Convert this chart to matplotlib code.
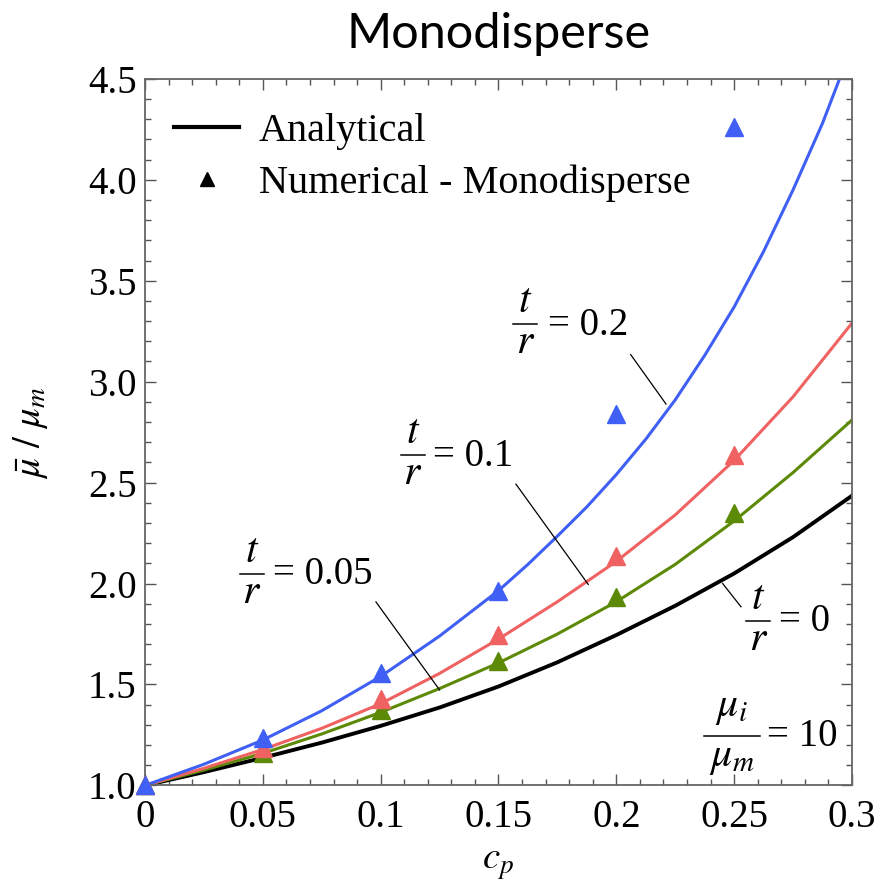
import matplotlib.pyplot as plt
from matplotlib.lines import Line2D
from matplotlib.ticker import MultipleLocator

# analytical curves, every 0.025
cp = [0, 0.025, 0.05, 0.075, 0.1, 0.125, 0.15, 0.175, 0.2, 0.225, 0.25, 0.275, 0.3]
mu_t0 = [1.0, 1.066, 1.137, 1.212, 1.295, 1.386, 1.49, 1.61, 1.745, 1.89, 2.05, 2.23, 2.435]
mu_t005 = [1.0, 1.076, 1.159, 1.255, 1.362, 1.48, 1.607, 1.75, 1.91, 2.095, 2.31, 2.55, 2.81]
mu_t01 = [1.0, 1.085, 1.178, 1.283, 1.405, 1.555, 1.725, 1.91, 2.11, 2.34, 2.61, 2.925, 3.29]

# the t/r = 0.2 curve bends hard, so it was read every 0.0125 past 0.15
cp_b = [0, 0.025, 0.05, 0.075, 0.1, 0.125, 0.15, 0.1625, 0.175, 0.1875, 0.2,
        0.2125, 0.225, 0.2375, 0.25, 0.2625, 0.275, 0.2875, 0.3]
mu_t02 = [1.0, 1.105, 1.225, 1.37, 1.54, 1.74, 1.965, 2.095, 2.235, 2.38, 2.54,
          2.715, 2.91, 3.13, 3.37, 3.645, 3.95, 4.28, 4.66]

# numerical (monodisperse) points
cp_num = [0, 0.05, 0.1, 0.15, 0.2, 0.25]
num_t005 = [1.0, 1.16, 1.375, 1.615, 1.935, 2.35]
num_t01 = [1.0, 1.185, 1.43, 1.745, 2.135, 2.635]
num_t02 = [1.0, 1.235, 1.555, 1.965, 2.84, 4.26]

x_ticks = [0, 0.05, 0.1, 0.15, 0.2, 0.25, 0.3]
x_tick_labels = ["0", "0.05", "0.1", "0.15", "0.2", "0.25", "0.3"]
y_ticks = [1.0, 1.5, 2.0, 2.5, 3.0, 3.5, 4.0, 4.5]
y_tick_labels = ["1.0", "1.5", "2.0", "2.5", "3.0", "3.5", "4.0", "4.5"]

blue = "#3f5ff5"
red = "#f06262"
green = "#5c8a06"

plt.rcParams["font.family"] = ["Liberation Serif", "DejaVu Serif"]
plt.rcParams["mathtext.fontset"] = "stix"

fig = plt.figure(figsize=(8.87, 8.86), dpi=100)
ax = fig.add_axes([0.1635, 0.1135, 0.797, 0.7975])

ax.plot(cp, mu_t0, color="black", lw=2.8, zorder=2)
ax.plot(cp, mu_t005, color=green, lw=2.2, zorder=2)
ax.plot(cp, mu_t01, color=red, lw=2.2, zorder=2)
ax.plot(cp_b, mu_t02, color=blue, lw=2.2, zorder=2)

ax.plot(cp_num, num_t005, "^", color=green, ms=13, ls="none", clip_on=False, zorder=3)
ax.plot(cp_num, num_t01, "^", color=red, ms=13, ls="none", clip_on=False, zorder=4)
ax.plot(cp_num, num_t02, "^", color=blue, ms=13, ls="none", clip_on=False, zorder=5)

ax.set_xlim(0, 0.3)
ax.set_ylim(1.0, 4.5)
ax.set_xticks(x_ticks)
ax.set_xticklabels(x_tick_labels)
ax.set_yticks(y_ticks)
ax.set_yticklabels(y_tick_labels)
ax.xaxis.set_minor_locator(MultipleLocator(0.01))
ax.yaxis.set_minor_locator(MultipleLocator(0.1))
ax.tick_params(which="both", direction="in", top=True, right=True, color="#555555", width=1)
ax.tick_params(which="major", length=8, labelsize=28)
ax.tick_params(which="minor", length=4)
ax.tick_params(axis="x", pad=10)
ax.tick_params(axis="y", pad=6)
for s in ax.spines.values():
    s.set_color("#666666")
    s.set_linewidth(1.3)

ax.set_xlabel(r"$c_p$", fontsize=28)
ax.xaxis.set_label_coords(0.5, -0.085)
ax.set_ylabel(r"$\bar{\mu}\ /\ \mu_m$", fontsize=28)
ax.yaxis.set_label_coords(-0.135, 0.5)

fig.text(0.562, 1 - 48 / 886, "Monodisperse", family="Lato", fontsize=35,
         ha="center", va="baseline")

handles = [Line2D([], [], color="black", lw=3),
           Line2D([], [], color="black", marker="^", ms=9.5, ls="none")]
ax.legend(handles, ["Analytical", "Numerical - Monodisperse"], loc="upper left",
          bbox_to_anchor=(0.013, 0.98), frameon=False, fontsize=29,
          handlelength=1.6, handletextpad=0.5, labelspacing=0.35, borderpad=0)


def fraction(x, y, num, den, half_w, up, down, size=30):
    # Mathematica-style stacked fraction: numerator, bar, denominator
    ax.text(x, y + up, num, fontsize=size, ha="center", va="center")
    ax.text(x, y - down, den, fontsize=size, ha="center", va="center")
    ax.plot([x - half_w, x + half_w], [y, y], color="black", lw=1.1)


# curve labels: fraction position, "= value" position, leader line
labels = [
    ("= 0.2", (0.1613, 3.285), (0.1710, 3.28), [0.2061, 0.2211], [3.134, 2.889]),
    ("= 0.1", (0.1136, 2.637), (0.1224, 2.63), [0.1574, 0.1881], [2.4926, 1.9955]),
    ("= 0.05", (0.0453, 2.049), (0.0545, 2.045), [0.0980, 0.1250], [1.909, 1.473]),
    ("= 0", (0.2602, 1.816), (0.2691, 1.81), [0.2451, 0.2529], [2.0005, 1.885]),
]
for eq, fpos, epos, lx, ly in labels:
    fraction(fpos[0], fpos[1], "$t$", "$r$", 0.0051, 0.109, 0.094)
    ax.text(epos[0], epos[1], eq, fontsize=28, ha="left", va="center")
    ax.plot(lx, ly, color="black", lw=0.9)

fraction(0.2490, 1.2446, r"$\mu_i$", r"$\mu_m$", 0.0119, 0.139, 0.109)
ax.text(0.2641, 1.24, "= 10", fontsize=28, ha="left", va="center")

fig.savefig("out.png", dpi=100)
